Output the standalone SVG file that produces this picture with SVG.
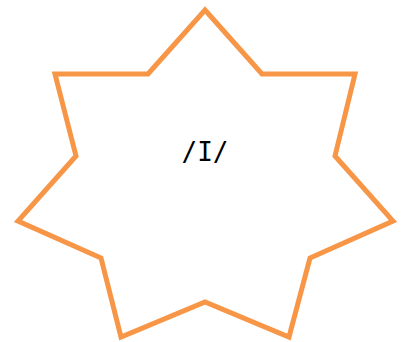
<svg xmlns="http://www.w3.org/2000/svg" width="401" height="342" viewBox="0 0 401 342">
<style>
.shape{fill:#ffffff;stroke:#f79646;stroke-width:5;stroke-linejoin:miter}
.lbl{font-family:"DejaVu Sans Mono",monospace;font-size:26px;fill:#000000;text-anchor:middle}
</style>
<rect width="401" height="342" fill="#ffffff"/>
<g id="connectors"></g>
<g id="star">
<polygon class="shape" points="205,10 262,74 355,74 335,156 393,221 310,258 289,337 205,302 121,337 101,258 18,221 76,156 55,74 148,74"/>
<text class="lbl" x="205" y="161">/I/</text>
</g>
</svg>
